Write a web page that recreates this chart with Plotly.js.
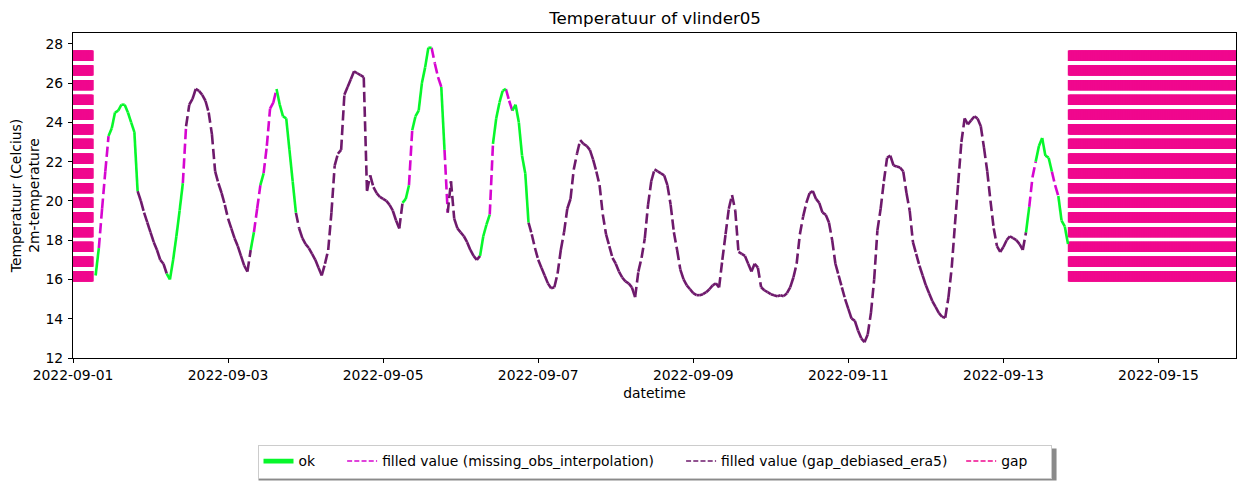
<!DOCTYPE html>
<html>
<head>
<meta charset="utf-8">
<script src="https://cdn.plot.ly/plotly-3.0.1.min.js"></script>
<style>html,body{margin:0;padding:0;background:#fff;}#chart{width:1245px;height:483px;}</style>
</head>
<body>
<div id="chart"></div>
<script>
// ---- data (hourly records, first record 2022-09-01 07:00) ----
const seriesStart = '2022-09-01 07:00';
const temperature = [
  16.2,17.6,19.6,21.5,23.3,23.7,24.5,24.6,24.9,24.9,24.5,24.0,23.5,20.5,20.0,19.4,18.9,
  18.4,17.9,17.5,17.0,16.8,16.3,16.0,17.0,18.2,19.5,20.9,23.8,24.9,25.2,25.7,25.6,25.4,25.1,24.5,23.4,21.5,20.9,20.4,19.8,
  19.1,18.6,18.1,17.7,17.2,16.7,16.4,17.5,18.4,19.6,20.8,21.4,22.8,24.7,25.0,25.7,24.9,24.3,24.2,22.6,21.0,19.4,18.6,18.1,
  17.8,17.6,17.3,17.0,16.6,16.2,16.8,17.5,19.4,21.8,22.4,22.6,25.4,25.8,26.2,26.6,26.5,26.4,26.3,20.5,21.3,20.7,20.4,20.2,
  20.1,20.0,19.8,19.5,19.0,18.6,19.9,20.1,20.8,23.6,24.3,24.6,26.0,26.8,27.8,27.8,27.0,26.3,25.8,22.6,19.4,21.0,19.1,18.6,
  18.4,18.2,17.9,17.5,17.2,17.0,17.2,18.2,18.8,19.3,22.9,24.2,25.0,25.6,25.7,25.1,24.6,24.9,24.0,22.3,21.4,18.9,18.3,17.6,
  17.0,16.6,16.2,15.8,15.55,15.6,16.3,17.5,18.4,19.6,20.1,21.6,22.4,23.1,22.9,22.8,22.6,22.1,21.5,20.8,19.3,18.3,17.7,17.1,
  16.8,16.4,16.1,15.9,15.8,15.6,15.1,16.4,17.1,18.1,19.8,21.0,21.6,21.5,21.4,21.3,20.8,19.8,18.4,17.5,16.5,16.0,15.7,15.5,
  15.3,15.2,15.2,15.25,15.35,15.5,15.7,15.8,15.6,17.0,18.3,19.6,20.3,19.5,17.4,17.3,17.2,16.8,16.4,16.8,16.6,15.6,15.45,15.35,
  15.25,15.2,15.15,15.2,15.15,15.3,15.6,16.1,16.8,18.3,19.2,19.9,20.4,20.5,20.1,19.9,19.4,19.3,18.9,18.0,16.8,16.2,15.6,15.0,
  14.5,14.0,13.9,13.4,13.0,12.8,13.2,14.3,16.0,18.5,19.6,21.0,22.2,22.3,21.8,21.75,21.7,21.5,20.4,19.5,17.9,17.3,16.7,16.2,
  15.7,15.3,14.9,14.6,14.3,14.1,14.05,15.1,16.6,18.8,20.9,23.0,24.2,23.9,24.1,24.3,24.2,23.8,22.7,21.5,20.0,18.6,17.7,17.4,
  17.65,18.0,18.2,18.1,18.0,17.8,17.5,18.4,19.7,21.2,22.0,22.8,23.2,22.3,22.2,21.5,20.8,20.25,19.0,18.7,17.8
];
// label per record: G = ok, M = missing_obs_interpolation, P = gap_debiased_era5
const labelCodes = [
  'GGMMMGGGGGGGGGPPP',
  'PPPPPPGGGGGMPPPPPPPPPPPP',
  'PPPPPPPPGMMGMMMMGGGGGGPP',
  'PPPPPPPPPPPPPPPPPPPPPPPP',
  'PPPPPPPGGMGGGGGGMMMGMPPP',
  'PPPPPPPGGGMGGGGMMGGGGGPP',
  'PPPPPPPPPPPPPPPPPPPPPPPP',
  'PPPPPPPPPPPPPPPPPPPPPPPP',
  'PPPPPPPPPPPPPPPPPPPPPPPP',
  'PPPPPPPPPPPPPPPPPPPPPPPP',
  'PPPPPPPPPPPPPPPPPPPPPPPP',
  'PPPPPPPPPPPPPPPPPPPPPPPP',
  'PPPPPPPPGMMGGGGGMMGGG'
];
const labelNames = {G: 'ok', M: 'filled value (missing_obs_interpolation)', P: 'filled value (gap_debiased_era5)'};
const labelColors = {G: '#07f72b', M: '#d606d0', P: '#6e1a6c'};
const gapName = 'gap';
const gapColor = '#f0088e';
const gapStarts = ['2022-09-01 00:00', '2022-09-13 20:20'];
const gapEnds   = ['2022-09-01 06:00', '2022-09-16 00:00'];
const gapLow = 15.9, gapHigh = 27.66;
const xTicks = ['2022-09-01','2022-09-03','2022-09-05','2022-09-07','2022-09-09','2022-09-11','2022-09-13','2022-09-15'];
const yTicks = [12,14,16,18,20,22,24,26,28];

// ---- build ----
function toMs(s){ return Date.parse(s.replace(' ', 'T') + ':00Z'); }
function fmt(ms){ return new Date(ms).toISOString().slice(0,16).replace('T',' '); }
const labels = labelCodes.join('').split('');
const t0 = toMs(seriesStart);
const times = temperature.map((_, i) => fmt(t0 + i * 3600000));
const dashPlot = '10.3px,4.4px';
const lw = 2.6;

const traces = [];
// gap markers: dashed vertical line at every gap timestamp
const gx = [], gy = [];
for (let k = 0; k < gapStarts.length; k++) {
  for (let t = toMs(gapStarts[k]); t <= toMs(gapEnds[k]); t += 600000) {
    gx.push(fmt(t), fmt(t), null);
    gy.push(gapLow, gapHigh, null);
  }
}
traces.push({x: gx, y: gy, mode: 'lines', line: {color: gapColor, width: lw, dash: dashPlot, simplify: false}, showlegend: false, hoverinfo: 'skip'});

// filled values: each record-to-record step is its own dashed line (dash restarts per step)
const okX = [], okY = [];
for (let i = 1; i < temperature.length; i++) {
  const c = labels[i];
  if (c === 'G') {
    okX.push(times[i-1], times[i], null);
    okY.push(temperature[i-1], temperature[i], null);
  } else {
    traces.push({x: [times[i-1], times[i]], y: [temperature[i-1], temperature[i]], mode: 'lines',
      line: {color: labelColors[c], width: lw, dash: dashPlot}, showlegend: false, hoverinfo: 'skip'});
  }
}
traces.push({x: okX, y: okY, mode: 'lines', line: {color: labelColors.G, width: lw, simplify: false}, showlegend: false});

// legend entries
const nb = n => '\u00a0'.repeat(n);
const legendDash = '5px,2.2px';
traces.push(
  {x: [null], y: [null], mode: 'lines', name: labelNames.G + nb(5), line: {color: labelColors.G, width: 4.8}},
  {x: [null], y: [null], mode: 'lines', name: labelNames.M + nb(5), line: {color: labelColors.M, width: 1.4, dash: legendDash}},
  {x: [null], y: [null], mode: 'lines', name: labelNames.P + nb(2), line: {color: labelColors.P, width: 1.4, dash: legendDash}},
  {x: [null], y: [null], mode: 'lines', name: gapName + nb(4), line: {color: gapColor, width: 1.4, dash: legendDash}}
);

const font = {family: 'DejaVu Sans, sans-serif', size: 13.9, color: '#000'};
const layout = {
  width: 1245, height: 483,
  margin: {l: 73, r: 9, t: 33, b: 125},
  paper_bgcolor: '#fff', plot_bgcolor: '#fff',
  font: font,
  title: {text: 'Temperatuur of vlinder05', font: {family: font.family, size: 16.7, color: '#000'}, x: 0.5262, xanchor: 'center', y: 0.963, yanchor: 'middle'},
  xaxis: {
    type: 'date', range: ['2022-09-01 00:00', '2022-09-16 00:00'], automargin: false,
    tickmode: 'array', tickvals: xTicks, ticktext: xTicks,
    ticks: 'outside', ticklen: 4, tickcolor: '#000', tickwidth: 1,
    showline: true, linecolor: '#000', linewidth: 1, mirror: true,
    showgrid: false, zeroline: false,
    title: {text: 'datetime', font: font, standoff: 6}
  },
  yaxis: {
    range: [12.0, 28.55], automargin: false, tickmode: 'array', tickvals: yTicks, ticktext: yTicks.map(String),
    ticks: 'outside', ticklen: 4, tickcolor: '#000', tickwidth: 1, ticklabelstandoff: 2,
    showline: true, linecolor: '#000', linewidth: 1, mirror: true,
    showgrid: false, zeroline: false,
    title: {text: 'Temperatuur (Celcius)<br>2m-temperature', font: font, standoff: 2}
  },
  legend: {
    orientation: 'h', x: 0.5, xanchor: 'center', yref: 'container', y: 1 - 461.5 / 483, yanchor: 'middle',
    bordercolor: '#cccccc', borderwidth: 1, bgcolor: '#fff',
    font: {family: font.family, size: 13.9, color: '#000'}
  },
  shapes: [
    {type: 'rect', xref: 'paper', yref: 'paper', layer: 'below',
     x0: 0.1595, x1: 0.8457, y0: -0.2785, y1: -0.3769,
     line: {width: 0}, fillcolor: '#8a8a8a'}
  ],
  showlegend: true
};
Plotly.newPlot('chart', traces, layout, {displayModeBar: false, staticPlot: true});
</script>
</body>
</html>
